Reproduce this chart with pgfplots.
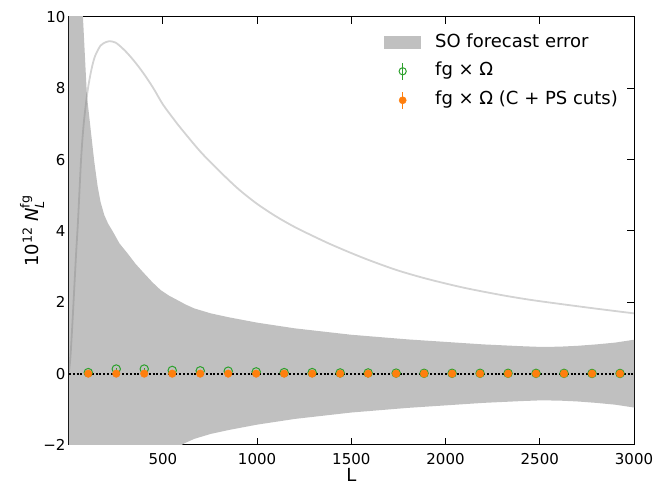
\documentclass[border=0pt]{standalone}
\usepackage{fontspec}
\setmainfont{DejaVu Sans}
\usepackage{amsmath}
\usepackage{pgfplots}
\pgfplotsset{compat=1.18}
\usepackage{pgfplotstable}

\definecolor{band}{HTML}{C0C0C0}
\definecolor{tabgreen}{HTML}{2CA02C}
\definecolor{taborange}{HTML}{FF7F0E}

% SO forecast error band outline: upper edge left to right, then lower edge right to left
\pgfplotstableread{
L s
2 60
20 20
40 14
60 11.5
76 10
97 7.8
120 6.7
136 5.95
154 5.25
170 4.8
189 4.45
210 4.2
233 4.0
270 3.65
313 3.37
355 3.08
401 2.81
445 2.56
489 2.34
535 2.18
578 2.06
620 1.94
666 1.83
710 1.76
754 1.69
850 1.58
1000 1.43
1200 1.27
1500 1.09
1800 0.96
2000 0.89
2200 0.82
2400 0.77
2500 0.75
2600 0.755
2700 0.78
2800 0.82
2900 0.87
3000 0.95
3000 -0.95
2900 -0.87
2800 -0.82
2700 -0.78
2600 -0.755
2500 -0.75
2400 -0.77
2200 -0.82
2000 -0.89
1800 -0.96
1500 -1.09
1200 -1.27
1000 -1.43
850 -1.58
754 -1.69
710 -1.76
666 -1.83
620 -1.94
578 -2.06
535 -2.18
489 -2.34
445 -2.56
401 -2.81
355 -3.08
313 -3.37
270 -3.65
233 -4.0
210 -4.2
189 -4.45
170 -4.8
154 -5.25
136 -5.95
120 -6.7
97 -7.8
76 -10
60 -11.5
40 -14
20 -20
2 -60
}\bandtab

\pgfplotstableread{
L v
2 0.05
10 0.5
20 1.4
30 2.4
40 3.4
50 4.3
66 6.0
80 7.0
100 7.9
120 8.5
140 8.9
170 9.2
200 9.3
216 9.32
250 9.28
300 9.05
350 8.75
400 8.4
450 8.0
500 7.55
560 7.12
600 6.85
700 6.22
800 5.68
900 5.18
1000 4.76
1100 4.41
1200 4.11
1300 3.85
1389 3.63
1500 3.38
1600 3.17
1743 2.90
1900 2.66
2096 2.41
2300 2.20
2449 2.07
2600 1.96
2802 1.82
3000 1.69
}\curvetab

\pgfplotstableread{
L v e
104.25 0.03 0.02
252.75 0.13 0.02
401.25 0.13 0.02
549.75 0.09 0.02
698.25 0.08 0.02
846.75 0.07 0.02
995.25 0.05 0.02
1143.75 0.03 0.02
1292.25 0.03 0.02
1440.75 0.02 0.02
1589.25 0.02 0.02
1737.75 0.015 0.02
1886.25 0.01 0.02
2034.75 0.01 0.02
2183.25 0.01 0.02
2331.75 0.01 0.02
2480.25 0.008 0.02
2628.75 0.008 0.02
2777.25 0.005 0.02
2925.75 0.005 0.02
}\greentab

\pgfplotstableread{
L v e
104.25 0.0 0.02
252.75 0.0 0.02
401.25 0.0 0.02
549.75 0.0 0.02
698.25 0.0 0.02
846.75 0.0 0.02
995.25 0.0 0.02
1143.75 0.0 0.02
1292.25 0.0 0.02
1440.75 0.0 0.02
1589.25 0.0 0.02
1737.75 0.0 0.02
1886.25 0.0 0.02
2034.75 0.0 0.02
2183.25 0.0 0.02
2331.75 0.0 0.02
2480.25 0.0 0.02
2628.75 0.0 0.02
2777.25 0.0 0.02
2925.75 0.0 0.02
}\orangetab

\begin{document}
\begin{tikzpicture}
\begin{axis}[
  at={(0,0)}, anchor=south west,
  scale only axis, width=565bp, height=428bp,
  xmin=2, xmax=3000, ymin=-2, ymax=10,
  xtick={500,1000,1500,2000,2500,3000},
  xticklabels={500,1000,1500,2000,2500,3000},
  ytick={-2,0,2,4,6,8,10},
  yticklabels={−2,0,2,4,6,8,10},
  tick align=inside, major tick length=7bp,
  every tick/.style={black, line width=1bp},
  axis line style={black, line width=1bp},
  ticklabel style={font=\fontsize{15bp}{18bp}\selectfont},
  xticklabel style={yshift=-5bp},
  every axis x label/.style={at={(axis description cs:0.5,0)}, yshift=-30bp, anchor=center, font=\fontsize{18bp}{21bp}\selectfont},
  every axis y label/.style={at={(axis description cs:0,0.5)}, xshift=-37bp, rotate=90, anchor=center, font=\fontsize{18bp}{21bp}\selectfont},
  xlabel={L},
  ylabel={10$^{\text{12}}$ \textit{N}$_{\textit{L}}^{\text{fg}}$},
  legend cell align=left,
  legend style={at={(axis description cs:0.5575,0.960)}, anchor=north west, draw=none, fill=none, inner sep=0pt,
    font=\fontsize{18bp}{21bp}\selectfont,
    nodes={inner sep=0pt, text height=13bp, text depth=4bp},
    /tikz/column sep=14bp, /tikz/row sep=11bp},
]
\addplot[fill=band, draw=none,
  legend image code/.code={\fill[band] (0bp,-6.5bp) rectangle (37bp,6.5bp);}]
  table[x=L, y=s] {\bandtab} -- cycle;
\addlegendentry{SO forecast error}
\addplot[gray, opacity=0.35, line width=1.8bp, smooth, forget plot] table[x=L, y=v] {\curvetab};
\addplot[black, line width=2bp, dash pattern=on 2bp off 1.8bp, forget plot] coordinates {(2,0) (3000,0)};
\addplot[only marks, mark=o, mark size=4.2bp, mark options={draw=tabgreen, line width=1bp},
  tabgreen,
  legend image code/.code={\draw[tabgreen, line width=1bp] (18.5bp,-8.5bp) -- (18.5bp,8.5bp);
    \draw[tabgreen, line width=1bp] (18.5bp,0bp) circle (3.6bp);},
  error bars/.cd, y dir=both, y explicit, error bar style={line width=1bp, tabgreen}, error mark=none]
  table[x=L, y=v, y error=e] {\greentab};
\addlegendentry{fg × Ω}
\addplot[only marks, mark=*, mark size=3.8bp, mark options={draw=taborange, fill=taborange},
  taborange,
  legend image code/.code={\draw[taborange, line width=1bp] (18.5bp,-8.5bp) -- (18.5bp,8.5bp);
    \fill[taborange] (18.5bp,0bp) circle (3.6bp);},
  error bars/.cd, y dir=both, y explicit, error bar style={line width=1bp, taborange}, error mark=none]
  table[x=L, y=v, y error=e] {\orangetab};
\addlegendentry{fg × Ω (C + PS cuts)}
\end{axis}
\pgfresetboundingbox
\useasboundingbox (-69bp,-40bp) rectangle (598bp,445bp);
\end{tikzpicture}
\end{document}
